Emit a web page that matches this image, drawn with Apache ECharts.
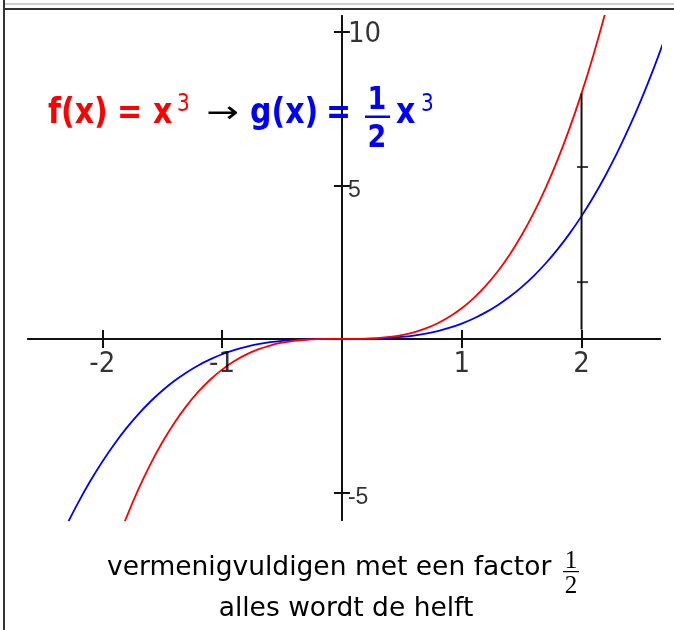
<!DOCTYPE html>
<html>
<head>
<meta charset="utf-8">
<script src="https://cdn.jsdelivr.net/npm/echarts@6/dist/echarts.min.js"></script>
<style>
  html, body { margin: 0; padding: 0; background: #fff; }
  #chart { width: 674px; height: 630px; }
</style>
</head>
<body>
<div id="chart"></div>
<script>
// Sample points of f(x) = x^3 and g(x) = ½·x^3
const xs = [-2.4, -2.3, -2.2, -2.1, -2.0, -1.9, -1.8, -1.7, -1.6, -1.5, -1.4, -1.3, -1.2, -1.1, -1.0,
  -0.9, -0.8, -0.7, -0.6, -0.5, -0.4, -0.3, -0.2, -0.1, 0,
  0.1, 0.2, 0.3, 0.4, 0.5, 0.6, 0.7, 0.8, 0.9, 1.0, 1.1, 1.2, 1.3, 1.4, 1.5, 1.6, 1.7, 1.8, 1.9,
  2.0, 2.1, 2.2, 2.3, 2.4, 2.5, 2.6, 2.7];
const fValues = [-13.824, -12.167, -10.648, -9.261, -8, -6.859, -5.832, -4.913, -4.096, -3.375, -2.744, -2.197, -1.728, -1.331, -1,
  -0.729, -0.512, -0.343, -0.216, -0.125, -0.064, -0.027, -0.008, -0.001, 0,
  0.001, 0.008, 0.027, 0.064, 0.125, 0.216, 0.343, 0.512, 0.729, 1, 1.331, 1.728, 2.197, 2.744, 3.375, 4.096, 4.913, 5.832, 6.859,
  8, 9.261, 10.648, 12.167, 13.824, 15.625, 17.576, 19.683];
const gValues = [-6.912, -6.084, -5.324, -4.631, -4, -3.430, -2.916, -2.457, -2.048, -1.688, -1.372, -1.099, -0.864, -0.666, -0.5,
  -0.365, -0.256, -0.172, -0.108, -0.063, -0.032, -0.014, -0.004, -0.001, 0,
  0.001, 0.004, 0.014, 0.032, 0.063, 0.108, 0.172, 0.256, 0.365, 0.5, 0.666, 0.864, 1.099, 1.372, 1.688, 2.048, 2.457, 2.916, 3.430,
  4, 4.631, 5.324, 6.084, 6.912, 7.813, 8.788, 9.842];

// Axis extents and tick positions
const xRange = [-2.62, 2.655];
const yRange = [-5.9, 10.52];
const xTicks = [-2, -1, 1, 2];
const yTicks = [-5, 5, 10];

// Vertical measuring bar at x = 2 and its small marks
const barPoints = [[2, 0.3], [2, 8]];
const barMarks = [[2, 1.85], [2, 5.6]];

const AXIS = '#111';
const narrow = "'Liberation Sans Narrow', 'DejaVu Sans Condensed', 'Liberation Sans', sans-serif";
const regular = "'Liberation Sans', Arial, sans-serif";
const verdana = "'DejaVu Sans', Verdana, sans-serif";

function xAxisDef(pos) {
  return {
    type: 'value', position: pos, min: xRange[0], max: xRange[1],
    axisLine: { onZero: true, onZeroAxisIndex: 0, lineStyle: { color: AXIS, width: 2 } },
    axisTick: { show: true, length: 9, customValues: xTicks, lineStyle: { color: AXIS, width: 2 } },
    axisLabel: { show: false },
    splitLine: { show: false }
  };
}
function yAxisDef(pos) {
  return {
    type: 'value', position: pos, min: yRange[0], max: yRange[1],
    axisLine: { onZero: true, onZeroAxisIndex: 0, lineStyle: { color: AXIS, width: 2 } },
    axisTick: { show: true, length: 8, customValues: yTicks, lineStyle: { color: AXIS, width: 2 } },
    axisLabel: { show: false },
    splitLine: { show: false }
  };
}

// Formula text pieces (stretched vertically like the drawn formula)
function piece(text, x, y, font, fill, extra) {
  return Object.assign({
    type: 'text', x: x, y: y, scaleY: 1.2, z: 10,
    style: { text: text, font: font, fill: fill, align: 'left', verticalAlign: 'middle' }
  }, extra || {});
}
const RED = '#ff0000', BLUE = '#0000ff';
const boldF = "bold 30px 'DejaVu Sans', Verdana, sans-serif";
const supF = "20px 'DejaVu Sans', Verdana, sans-serif";
const fracF = "bold 27px 'DejaVu Sans', Verdana, sans-serif";

const chart = echarts.init(document.getElementById('chart'), null, { renderer: 'canvas' });
chart.setOption({
  animation: false,
  backgroundColor: '#fff',
  grid: { left: 28, right: 14, top: 16, bottom: 110, containLabel: false, outerBoundsMode: 'none' },
  xAxis: [xAxisDef('bottom'), xAxisDef('top')],
  yAxis: [yAxisDef('left'), yAxisDef('right')],
  series: [
    {
      name: 'g(x)', type: 'line', smooth: 0.3, symbol: 'none', z: 3,
      lineStyle: { color: BLUE, width: 1.8 },
      data: xs.map((x, i) => [x, gValues[i]])
    },
    {
      name: 'f(x)', type: 'line', smooth: 0.3, symbol: 'none', z: 4,
      lineStyle: { color: RED, width: 1.8 },
      data: xs.map((x, i) => [x, fValues[i]])
    },
    {
      type: 'line', symbol: 'none', z: 5,
      lineStyle: { color: AXIS, width: 2 },
      data: barPoints
    },
    {
      type: 'scatter', symbol: 'rect', symbolSize: [11, 2], symbolOffset: [1, 0], z: 5,
      itemStyle: { color: AXIS },
      data: barMarks
    },
    // tick labels on the horizontal axis
    {
      type: 'scatter', symbolSize: 0, z: 6, silent: true,
      data: xTicks.map(v => [v, 0]),
      label: {
        show: true, position: 'bottom', distance: 11,
        formatter: p => String(p.value[0]),
        fontSize: 29, fontFamily: narrow, color: '#000'
      }
    },
    // tick labels on the vertical axis
    {
      type: 'scatter', symbolSize: 0, z: 6, silent: true,
      data: yTicks.map(v => [0, v]),
      label: {
        show: true, position: 'right', distance: 6, color: '#000',
        formatter: p => (p.value[1] === 10 ? '{b|10}' : '{s|' + p.value[1] + '}'),
        rich: {
          b: { fontSize: 29, fontFamily: narrow, padding: [6, 0, 0, 0], color: '#000' },
          s: { fontSize: 23, fontFamily: regular, padding: [10, 0, 0, 0], color: '#000' }
        }
      }
    }
  ],
  graphic: [
    // frame
    { type: 'rect', shape: { x: 5, y: 3, width: 669, height: 2 }, style: { fill: '#d0d0d0' }, z: 20 },
    { type: 'rect', shape: { x: 3, y: 8, width: 671, height: 2 }, style: { fill: '#333' }, z: 20 },
    { type: 'rect', shape: { x: 3, y: 0, width: 2, height: 630 }, style: { fill: '#333' }, z: 20 },

    // f(x) = x³  →  g(x) = ½ x³
    piece('f(x)', 48, 113.5, boldF, RED),
    piece('=', 117, 113.5, boldF, RED),
    piece('x', 153, 113.5, boldF, RED),
    piece('3', 177, 104.5, supF, RED),
    piece('\u2192', 206, 114, "30px 'DejaVu Sans', sans-serif", '#000', { scaleY: 1, scaleX: 1.3 }),
    piece('g(x)', 250, 113.5, boldF, BLUE),
    piece('=', 326, 113.5, boldF, BLUE),
    piece('1', 377, 100.8, fracF, BLUE, { style: { text: '1', font: fracF, fill: BLUE, align: 'center', verticalAlign: 'middle' } }),
    { type: 'rect', shape: { x: 365, y: 115.5, width: 25, height: 2.5 }, style: { fill: BLUE }, z: 10 },
    piece('2', 377, 138.8, fracF, BLUE, { style: { text: '2', font: fracF, fill: BLUE, align: 'center', verticalAlign: 'middle' } }),
    piece('x', 396, 113.5, boldF, BLUE),
    piece('3', 421, 104.5, supF, BLUE),

    // caption
    { type: 'text', x: 107, y: 568, z: 10,
      style: { text: 'vermenigvuldigen met een factor', font: "26.5px " + verdana, fill: '#000', align: 'left', verticalAlign: 'middle' } },
    { type: 'text', x: 571, y: 561.5, z: 10,
      style: { text: '1', font: "25px 'Liberation Serif', 'Times New Roman', serif", fill: '#000', align: 'center', verticalAlign: 'middle' } },
    { type: 'rect', shape: { x: 563, y: 571, width: 16, height: 1.2 }, style: { fill: '#000' }, z: 10 },
    { type: 'text', x: 571, y: 586.5, z: 10,
      style: { text: '2', font: "25px 'Liberation Serif', 'Times New Roman', serif", fill: '#000', align: 'center', verticalAlign: 'middle' } },
    { type: 'text', x: 346, y: 609, z: 10,
      style: { text: 'alles wordt de helft', font: "26.5px " + verdana, fill: '#000', align: 'center', verticalAlign: 'middle' } }
  ]
});
</script>
</body>
</html>
